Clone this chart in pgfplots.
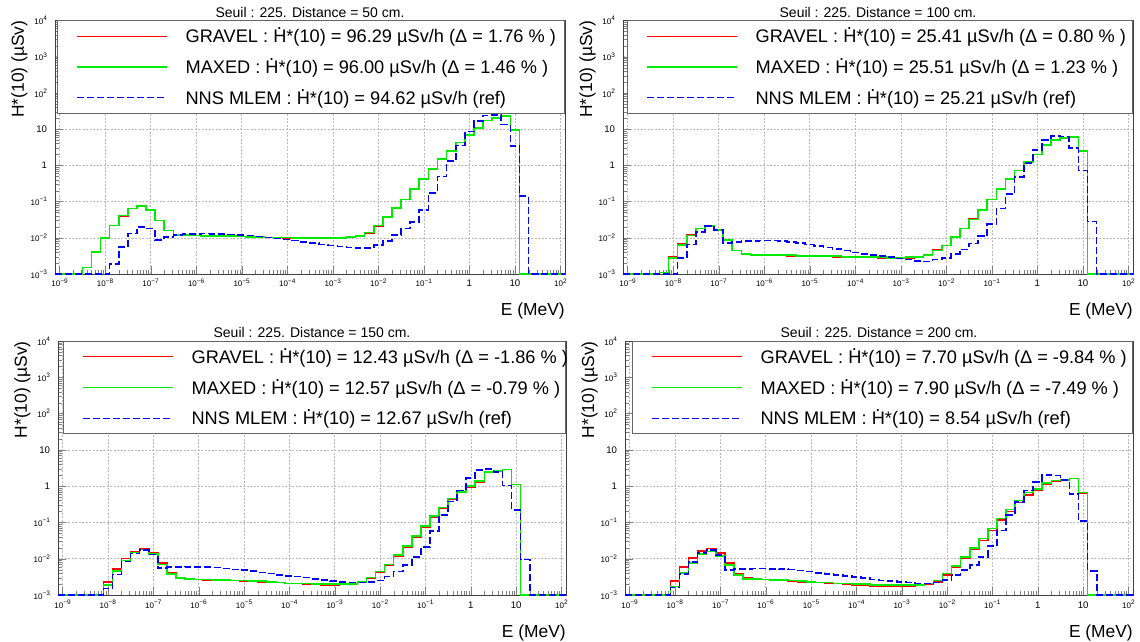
\documentclass[border=0pt]{standalone}
\usepackage{fontspec}
\setmainfont{Liberation Sans}
\usepackage{pgfplots}
\usepackage{pgfplotstable}
\pgfplotsset{compat=1.18}

\newcommand{\Hd}{\leavevmode\rlap{\hspace{0.2em}\raisebox{0.72em}{.}}H}
\newcommand{\ep}[1]{{\fontsize{8}{9}\selectfont 10}\raisebox{3.8pt}{\fontsize{6.5}{7}\selectfont #1}}

\pgfplotstableread{
lx r g b
-9.1 0.001 0.001 0.001
-8.9 0.001 0.001 0.001
-8.7 0.001 0.001 0.001
-8.5 0.0015 0.0015 0.001
-8.3 0.0040 0.0040 0.001
-8.1 0.0098 0.0098 0.001
-7.9 0.022 0.022 0.0019
-7.7 0.040 0.041 0.0055
-7.5 0.064 0.065 0.013
-7.3 0.077 0.076 0.020
-7.1 0.058 0.059 0.018
-6.9 0.030 0.030 0.0087
-6.7 0.016 0.016 0.0105
-6.5 0.0120 0.0120 0.0118
-6.3 0.0118 0.0118 0.0125
-6.1 0.0116 0.0116 0.0128
-5.9 0.0114 0.0114 0.0130
-5.7 0.0112 0.0113 0.0129
-5.5 0.0111 0.0112 0.0127
-5.3 0.0110 0.0111 0.0124
-5.1 0.0108 0.0109 0.0120
-4.9 0.0106 0.0107 0.0115
-4.7 0.0104 0.0105 0.0109
-4.5 0.0103 0.0103 0.0102
-4.3 0.0101 0.0102 0.0096
-4.1 0.0100 0.0101 0.0090
-3.9 0.0099 0.0100 0.0084
-3.7 0.0098 0.0099 0.0077
-3.5 0.0097 0.0098 0.0071
-3.3 0.0097 0.0098 0.0065
-3.1 0.0098 0.0099 0.0061
-2.9 0.0100 0.0100 0.0057
-2.7 0.0103 0.0104 0.0054
-2.5 0.0110 0.0110 0.0052
-2.3 0.0138 0.0140 0.0052
-2.1 0.0215 0.022 0.0063
-1.9 0.036 0.037 0.0083
-1.7 0.065 0.066 0.012
-1.5 0.113 0.114 0.018
-1.3 0.215 0.22 0.027
-1.1 0.41 0.42 0.059
-0.9 0.78 0.78 0.17
-0.7 1.48 1.5 0.49
-0.5 2.5 2.5 1.33
-0.3 4.3 4.3 3.5
-0.1 6.8 6.8 8.5
0.1 10.6 10.6 16.5
0.3 17.5 17.5 24
0.5 20.5 20.5 25
0.7 23 23 13.5
0.9 9.6 9.6 3.4
1.1 0.001 0.001 0.14
1.3 0.001 0.001 0.001
1.5 0.001 0.001 0.001
1.7 0.001 0.001 0.001
1.9 0.001 0.001 0.001
2.1 0.001 0.001 0.001
}\tA

\pgfplotstableread{
lx r g b
-9.1 0.001 0.001 0.001
-8.9 0.001 0.001 0.001
-8.7 0.001 0.001 0.001
-8.5 0.001 0.001 0.001
-8.3 0.0011 0.0011 0.001
-8.1 0.0029 0.0028 0.001
-7.9 0.0068 0.0063 0.0028
-7.7 0.0118 0.0117 0.0066
-7.5 0.0180 0.0180 0.0146
-7.3 0.0212 0.0215 0.0215
-7.1 0.0170 0.0166 0.0166
-6.9 0.0088 0.0087 0.0071
-6.7 0.0045 0.0045 0.0077
-6.5 0.0035 0.0035 0.0080
-6.3 0.0034 0.0034 0.0083
-6.1 0.0034 0.0034 0.0085
-5.9 0.0033 0.0034 0.0084
-5.7 0.0033 0.0033 0.0081
-5.5 0.0032 0.0033 0.0077
-5.3 0.0032 0.0032 0.0072
-5.1 0.0031 0.0032 0.0065
-4.9 0.0031 0.0032 0.0059
-4.7 0.0031 0.0031 0.0054
-4.5 0.0030 0.0031 0.0049
-4.3 0.0030 0.0030 0.0044
-4.1 0.0030 0.0030 0.0039
-3.9 0.0029 0.0030 0.0036
-3.7 0.0029 0.0029 0.0033
-3.5 0.0028 0.0029 0.0031
-3.3 0.0028 0.0028 0.0029
-3.1 0.0028 0.0028 0.0027
-2.9 0.0028 0.0029 0.0025
-2.7 0.0030 0.0030 0.0023
-2.5 0.0034 0.0033 0.0022
-2.3 0.0046 0.0045 0.0025
-2.1 0.0062 0.0062 0.0028
-1.9 0.0104 0.0105 0.0036
-1.7 0.018 0.018 0.0048
-1.5 0.033 0.032 0.007
-1.3 0.057 0.058 0.011
-1.1 0.114 0.115 0.024
-0.9 0.22 0.22 0.065
-0.7 0.41 0.42 0.16
-0.5 0.72 0.72 0.47
-0.3 1.24 1.25 1.15
-0.1 2.0 2.0 2.7
0.1 3.6 3.6 5.0
0.3 5.0 5.0 6.4
0.5 5.6 5.6 6.2
0.7 6.1 6.1 3.0
0.9 2.45 2.45 0.72
1.1 0.001 0.001 0.028
1.3 0.001 0.001 0.001
1.5 0.001 0.001 0.001
1.7 0.001 0.001 0.001
1.9 0.001 0.001 0.001
2.1 0.001 0.001 0.001
}\tB

\pgfplotstableread{
lx r g b
-9.1 0.001 0.001 0.001
-8.9 0.001 0.001 0.001
-8.7 0.001 0.001 0.001
-8.5 0.001 0.001 0.001
-8.3 0.001 0.001 0.001
-8.1 0.0023 0.0019 0.0015
-7.9 0.0053 0.0045 0.0037
-7.7 0.0102 0.0090 0.0083
-7.5 0.0160 0.0148 0.0140
-7.3 0.0190 0.0178 0.0172
-7.1 0.0145 0.0135 0.0130
-6.9 0.0075 0.0070 0.0056
-6.7 0.0040 0.0038 0.0058
-6.5 0.0030 0.0029 0.0059
-6.3 0.0028 0.0028 0.0060
-6.1 0.0027 0.0027 0.0060
-5.9 0.0026 0.0027 0.0059
-5.7 0.0026 0.0026 0.0057
-5.5 0.0025 0.0026 0.0054
-5.3 0.0025 0.0025 0.0051
-5.1 0.0024 0.0025 0.0048
-4.9 0.0024 0.0024 0.0045
-4.7 0.0023 0.0024 0.0042
-4.5 0.0022 0.0023 0.0039
-4.3 0.0022 0.0022 0.0036
-4.1 0.0021 0.0021 0.0034
-3.9 0.0021 0.0021 0.0032
-3.7 0.0020 0.0021 0.0030
-3.5 0.0020 0.0020 0.0028
-3.3 0.0019 0.0020 0.0026
-3.1 0.0019 0.0020 0.0024
-2.9 0.0020 0.0020 0.0023
-2.7 0.0020 0.0020 0.0022
-2.5 0.0023 0.0023 0.0022
-2.3 0.0029 0.0030 0.0023
-2.1 0.0043 0.0044 0.0025
-1.9 0.0066 0.0069 0.0032
-1.7 0.0120 0.0126 0.0044
-1.5 0.021 0.022 0.0068
-1.3 0.038 0.042 0.011
-1.1 0.074 0.080 0.021
-0.9 0.14 0.15 0.058
-0.7 0.25 0.26 0.16
-0.5 0.43 0.46 0.38
-0.3 0.66 0.70 0.75
-0.1 0.92 1.0 1.7
0.1 1.32 1.38 2.8
0.3 2.4 2.47 3.0
0.5 2.6 2.6 2.5
0.7 2.9 2.9 1.05
0.9 1.1 1.1 0.22
1.1 0.001 0.001 0.0095
1.3 0.001 0.001 0.001
1.5 0.001 0.001 0.001
1.7 0.001 0.001 0.001
1.9 0.001 0.001 0.001
2.1 0.001 0.001 0.001
}\tC

\pgfplotstableread{
lx r g b
-9.1 0.001 0.001 0.001
-8.9 0.001 0.001 0.001
-8.7 0.001 0.001 0.001
-8.5 0.001 0.001 0.001
-8.3 0.001 0.001 0.001
-8.1 0.0024 0.0017 0.0016
-7.9 0.0060 0.0040 0.0038
-7.7 0.0105 0.0076 0.0082
-7.5 0.0165 0.0135 0.0142
-7.3 0.0192 0.0160 0.0172
-7.1 0.0145 0.0121 0.0126
-6.9 0.0076 0.0068 0.0049
-6.7 0.0039 0.0036 0.0052
-6.5 0.0029 0.0028 0.0053
-6.3 0.0028 0.0028 0.0054
-6.1 0.0027 0.0027 0.0054
-5.9 0.0026 0.0026 0.0053
-5.7 0.0025 0.0026 0.0052
-5.5 0.0024 0.0025 0.0050
-5.3 0.0023 0.0024 0.0047
-5.1 0.0023 0.0023 0.0044
-4.9 0.0022 0.0022 0.0041
-4.7 0.0021 0.0022 0.0038
-4.5 0.0021 0.0021 0.0035
-4.3 0.0020 0.0021 0.0033
-4.1 0.0019 0.0020 0.0031
-3.9 0.0019 0.0020 0.0029
-3.7 0.0018 0.0019 0.0027
-3.5 0.0018 0.0019 0.0025
-3.3 0.0017 0.0019 0.0024
-3.1 0.0017 0.0019 0.0023
-2.9 0.0018 0.0019 0.0022
-2.7 0.0019 0.0019 0.0021
-2.5 0.0020 0.0021 0.0021
-2.3 0.0023 0.0025 0.0022
-2.1 0.0035 0.0039 0.0026
-1.9 0.0058 0.0063 0.0036
-1.7 0.0105 0.0113 0.0048
-1.5 0.018 0.020 0.0067
-1.3 0.032 0.036 0.0113
-1.1 0.060 0.068 0.022
-0.9 0.115 0.129 0.060
-0.7 0.20 0.226 0.16
-0.5 0.35 0.40 0.37
-0.3 0.57 0.66 0.76
-0.1 0.78 0.83 1.3
0.1 1.1 1.2 2.0
0.3 1.35 1.43 1.95
0.5 1.45 1.49 1.5
0.7 1.62 1.63 0.60
0.9 0.65 0.66 0.11
1.1 0.001 0.001 0.0046
1.3 0.001 0.001 0.001
1.5 0.001 0.001 0.001
1.7 0.001 0.001 0.001
1.9 0.001 0.001 0.001
2.1 0.001 0.001 0.001
}\tD

\definecolor{cR}{RGB}{255,0,0}
\definecolor{cG}{RGB}{0,235,0}
\definecolor{cB}{RGB}{0,0,255}

\pgfplotsset{
  scale only axis,
  tick pos=left, tick align=inside,
  major tick length=8pt, minor tick length=4.5pt,
  grid=major,
  major grid style={gray!55, dash pattern=on 2pt off 1.5pt, line width=0.5pt},
  axis line style={black!75, line width=0.7pt},
  tick label style={font=\fontsize{9.6}{11}\selectfont},
  xticklabel style={anchor=base, yshift=-13pt},
  yticklabel style={xshift=-4.5pt},
  title style={at={(rel axis cs:0.5,1)}, anchor=base, yshift=-3pt, inner sep=0pt, font=\fontsize{14}{16}\selectfont},
  xlabel style={at={(rel axis cs:1,0)}, anchor=base east, inner sep=0pt, yshift=-42pt, font=\fontsize{17.4}{20}\selectfont},
  ylabel style={at={(rel axis cs:0,1)}, anchor=base east, inner sep=0pt, yshift=31pt, font=\fontsize{17.4}{20}\selectfont},
  legend style={at={(rel axis cs:1,1)}, anchor=north east, draw=black!60, line width=0.8pt, fill=white,
    inner sep=0pt, column sep=0pt, row sep=0pt,
    nodes={inner sep=0pt, text height=22pt, text depth=8.8pt, font=\fontsize{18.2}{20}\selectfont}},
  legend cell align=left,
}

\begin{document}
\begin{tikzpicture}
\useasboundingbox (0,0) rectangle (1140pt,642pt);

\begin{loglogaxis}[anchor=south west, at={(55pt,368pt)}, width=510pt, height=253.5pt, clip=false,
  xmin=7.943e-10, xmax=125.89, ymin=1e-3, ymax=1e4,
  xtick={1e-9,1e-8,1e-7,1e-6,1e-5,1e-4,1e-3,1e-2,1e-1,1,10,100},
  xticklabels={\ep{−9},\ep{−8},\ep{−7},\ep{−6},\ep{−5},\ep{−4},\ep{−3},\ep{−2},\ep{−1},1,10,\ep{2}},
  ytick={1e-3,1e-2,1e-1,1,10,100,1000,10000},
  yticklabels={\ep{−3},\ep{−2},\ep{−1},1,10,\ep{2},\ep{3},\ep{4}},
  xlabel={E (MeV)}, ylabel={H*(10) (µSv)},
  legend image code/.code={\path[draw=none] (0pt,0pt) -- (128pt,0pt); \draw[#1, line width=1.2pt] (19.5pt,0pt) -- (109pt,0pt);},
  title={Seuil : 225. Distance = 50 cm.}]
\addplot[const plot, draw=cR, line width=1.6pt] table[x expr={10^(\thisrow{lx})}, y=r]{\tA};
\addplot[const plot, draw=cG, line width=1.6pt] table[x expr={10^(\thisrow{lx})}, y=g]{\tA};
\addplot[const plot, draw=cB, line width=1.6pt, dash pattern=on 7pt off 3pt] table[x expr={10^(\thisrow{lx})}, y=b]{\tA};
\legend{\makebox[379pt][l]{GRAVEL : \Hd*(10) = 96.29 µSv/h (Δ = 1.76 \% )},
        \makebox[379pt][l]{MAXED : \Hd*(10) = 96.00 µSv/h (Δ = 1.46 \% )},
        \makebox[379pt][l]{NNS MLEM : \Hd*(10) = 94.62 µSv/h (ref)}}
\end{loglogaxis}

\begin{loglogaxis}[anchor=south west, at={(623pt,368pt)}, width=510pt, height=253.5pt, clip=false,
  xmin=7.943e-10, xmax=125.89, ymin=1e-3, ymax=1e4,
  xtick={1e-9,1e-8,1e-7,1e-6,1e-5,1e-4,1e-3,1e-2,1e-1,1,10,100},
  xticklabels={\ep{−9},\ep{−8},\ep{−7},\ep{−6},\ep{−5},\ep{−4},\ep{−3},\ep{−2},\ep{−1},1,10,\ep{2}},
  ytick={1e-3,1e-2,1e-1,1,10,100,1000,10000},
  yticklabels={\ep{−3},\ep{−2},\ep{−1},1,10,\ep{2},\ep{3},\ep{4}},
  xlabel={E (MeV)}, ylabel={H*(10) (µSv)},
  legend image code/.code={\path[draw=none] (0pt,0pt) -- (128pt,0pt); \draw[#1, line width=1.2pt] (19.5pt,0pt) -- (109pt,0pt);},
  title={Seuil : 225. Distance = 100 cm.}]
\addplot[const plot, draw=cR, line width=1.6pt] table[x expr={10^(\thisrow{lx})}, y=r]{\tB};
\addplot[const plot, draw=cG, line width=1.6pt] table[x expr={10^(\thisrow{lx})}, y=g]{\tB};
\addplot[const plot, draw=cB, line width=1.6pt, dash pattern=on 7pt off 3pt] table[x expr={10^(\thisrow{lx})}, y=b]{\tB};
\legend{\makebox[377pt][l]{GRAVEL : \Hd*(10) = 25.41 µSv/h (Δ = 0.80 \% )},
        \makebox[377pt][l]{MAXED : \Hd*(10) = 25.51 µSv/h (Δ = 1.23 \% )},
        \makebox[377pt][l]{NNS MLEM : \Hd*(10) = 25.21 µSv/h (ref)}}
\end{loglogaxis}

\begin{loglogaxis}[anchor=south west, at={(58pt,47pt)}, width=508pt, height=254pt, clip=false,
  xmin=7.943e-10, xmax=125.89, ymin=1e-3, ymax=1e4,
  xtick={1e-9,1e-8,1e-7,1e-6,1e-5,1e-4,1e-3,1e-2,1e-1,1,10,100},
  xticklabels={\ep{−9},\ep{−8},\ep{−7},\ep{−6},\ep{−5},\ep{−4},\ep{−3},\ep{−2},\ep{−1},1,10,\ep{2}},
  ytick={1e-3,1e-2,1e-1,1,10,100,1000,10000},
  yticklabels={\ep{−3},\ep{−2},\ep{−1},1,10,\ep{2},\ep{3},\ep{4}},
  xlabel={E (MeV)}, ylabel={H*(10) (µSv)},
  legend image code/.code={\path[draw=none] (0pt,0pt) -- (128pt,0pt); \draw[#1, line width=1.2pt] (19.5pt,0pt) -- (109pt,0pt);},
  title={Seuil : 225. Distance = 150 cm.}]
\addplot[const plot, draw=cR, line width=1.6pt] table[x expr={10^(\thisrow{lx})}, y=r]{\tC};
\addplot[const plot, draw=cG, line width=1.6pt] table[x expr={10^(\thisrow{lx})}, y=g]{\tC};
\addplot[const plot, draw=cB, line width=1.6pt, dash pattern=on 7pt off 3pt] table[x expr={10^(\thisrow{lx})}, y=b]{\tC};
\legend{\makebox[374pt][l]{GRAVEL : \Hd*(10) = 12.43 µSv/h (Δ = -1.86 \% )},
        \makebox[374pt][l]{MAXED : \Hd*(10) = 12.57 µSv/h (Δ = -0.79 \% )},
        \makebox[374pt][l]{NNS MLEM : \Hd*(10) = 12.67 µSv/h (ref)}}
\end{loglogaxis}

\begin{loglogaxis}[anchor=south west, at={(625pt,47pt)}, width=508pt, height=254pt, clip=false,
  xmin=7.943e-10, xmax=125.89, ymin=1e-3, ymax=1e4,
  xtick={1e-9,1e-8,1e-7,1e-6,1e-5,1e-4,1e-3,1e-2,1e-1,1,10,100},
  xticklabels={\ep{−9},\ep{−8},\ep{−7},\ep{−6},\ep{−5},\ep{−4},\ep{−3},\ep{−2},\ep{−1},1,10,\ep{2}},
  ytick={1e-3,1e-2,1e-1,1,10,100,1000,10000},
  yticklabels={\ep{−3},\ep{−2},\ep{−1},1,10,\ep{2},\ep{3},\ep{4}},
  xlabel={E (MeV)}, ylabel={H*(10) (µSv)},
  legend image code/.code={\path[draw=none] (0pt,0pt) -- (128pt,0pt); \draw[#1, line width=1.2pt] (19.5pt,0pt) -- (109pt,0pt);},
  title={Seuil : 225. Distance = 200 cm.}]
\addplot[const plot, draw=cR, line width=1.6pt] table[x expr={10^(\thisrow{lx})}, y=r]{\tD};
\addplot[const plot, draw=cG, line width=1.6pt] table[x expr={10^(\thisrow{lx})}, y=g]{\tD};
\addplot[const plot, draw=cB, line width=1.6pt, dash pattern=on 7pt off 3pt] table[x expr={10^(\thisrow{lx})}, y=b]{\tD};
\legend{\makebox[372pt][l]{GRAVEL : \Hd*(10) = 7.70 µSv/h (Δ = -9.84 \% )},
        \makebox[372pt][l]{MAXED : \Hd*(10) = 7.90 µSv/h (Δ = -7.49 \% )},
        \makebox[372pt][l]{NNS MLEM : \Hd*(10) = 8.54 µSv/h (ref)}}
\end{loglogaxis}
\end{tikzpicture}
\end{document}
